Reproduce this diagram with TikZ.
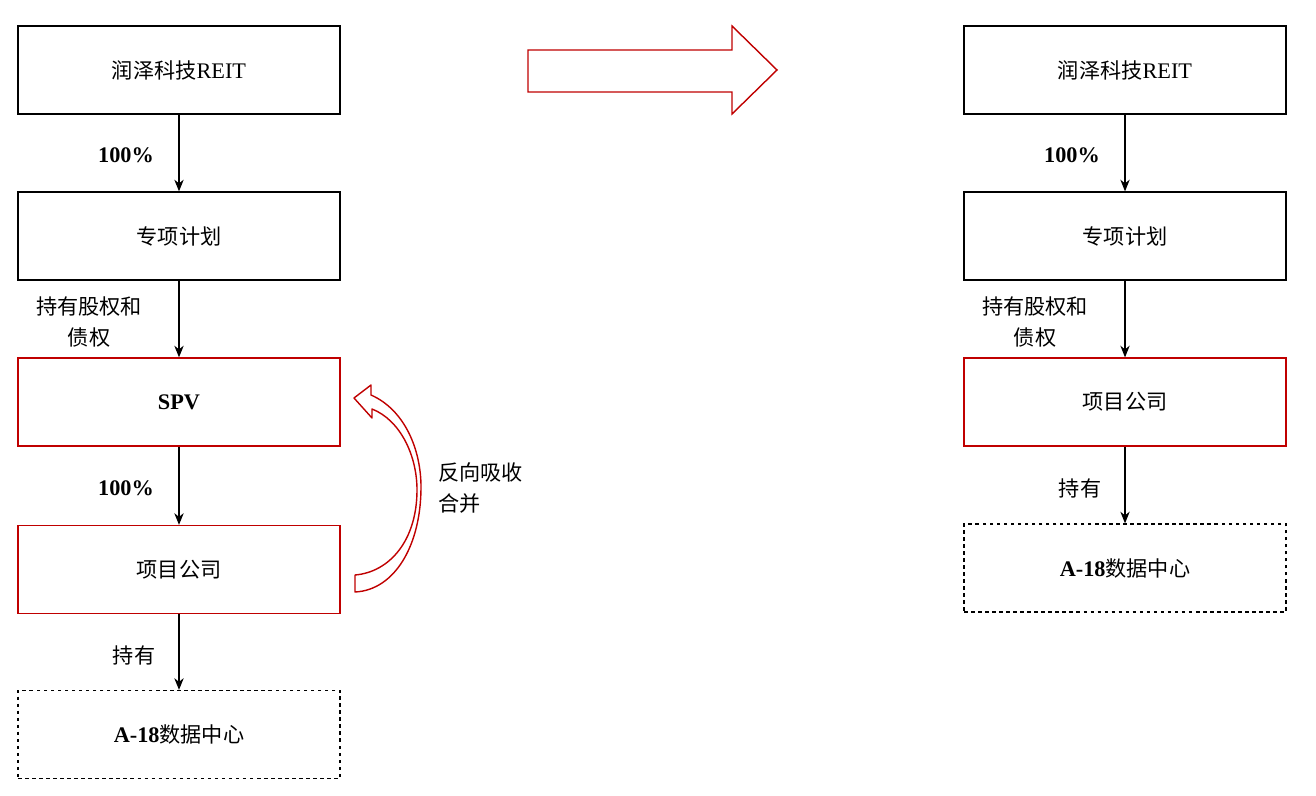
\documentclass[tikz,border=0pt]{standalone}
\usetikzlibrary{arrows.meta}
\usepackage{fontspec}
\setmainfont{Liberation Serif}
\newfontfamily\cjk{Noto Sans CJK SC}[Scale=0.95]
\begin{document}
\begin{tikzpicture}[x=0.03cm,y=-0.03cm,
  box/.style={draw,line width=1.1pt,minimum width=322*0.03cm,minimum height=88*0.03cm,inner sep=0pt,font=\fontsize{19}{22}\selectfont},
  redbox/.style={box,draw={rgb,255:red,192;green,0;blue,0}},
  dbox/.style={box,dashed},
  lab/.style={font=\fontsize{19}{26}\selectfont\cjk,align=center,inner sep=0pt},
  arr/.style={-{Stealth[length=10pt,width=8pt]},line width=0.9pt}]
\useasboundingbox (0,0) rectangle (1316,796);
\definecolor{rd}{RGB}{192,0,0}
% left column
\node[box] (l1) at (179,70) {{\cjk 润泽科技}REIT};
\node[box] (l2) at (179,236) {\cjk 专项计划};
\node[redbox] (l3) at (179,402) {\textbf{SPV}};
\node[redbox] (l4) at (179,569.5) {\cjk 项目公司};
\node[dbox] (l5) at (179,734.5) {\textbf{A-18}{\cjk 数据中心}};
\draw[arr] (l1) -- (l2);
\draw[arr] (l2) -- (l3);
\draw[arr] (l3) -- (l4);
\draw[arr] (l4) -- (l5);
\node[lab] (t1) at (126,155) {\rmfamily\textbf{100\%}};
\node[lab] (t2) at (89,322) {持有股权和\\债权};
\node[lab] (t3) at (126,488) {\rmfamily\textbf{100\%}};
\node[lab] (t4) at (134,655) {持有};
\node[lab,align=left,anchor=west] (t5) at (438,488) {反向吸收\\合并};
% right column
\node[box] (r1) at (1125,70) {{\cjk 润泽科技}REIT};
\node[box] (r2) at (1125,236) {\cjk 专项计划};
\node[redbox] (r3) at (1125,402) {\cjk 项目公司};
\node[dbox] (r4) at (1125,568) {\textbf{A-18}{\cjk 数据中心}};
\draw[arr] (r1) -- (r2);
\draw[arr] (r2) -- (r3);
\draw[arr] (r3) -- (r4);
\node[lab] (s1) at (1072,155) {\rmfamily\textbf{100\%}};
\node[lab] (s2) at (1035,322) {持有股权和\\债权};
\node[lab] (s3) at (1080,488) {持有};
% big arrow
\draw[rd,line width=1.2pt,fill=white] (528,50) -- (732,50) -- (732,26) -- (777,70) -- (732,114) -- (732,92) -- (528,92) -- cycle;
% curved arrow
\draw[rd,line width=1.2pt,fill=white,line join=round] (354,398) -- (371,385) -- (371,395)
  .. controls (405,410) and (421,450) .. (421,487)
  .. controls (421,545) and (395,590) .. (355,592)
  -- (355,575)
  .. controls (390,572) and (417,540) .. (417,490)
  .. controls (417,455) and (400,420) .. (372,409)
  -- (372,418) -- cycle;
\end{tikzpicture}
\end{document}
